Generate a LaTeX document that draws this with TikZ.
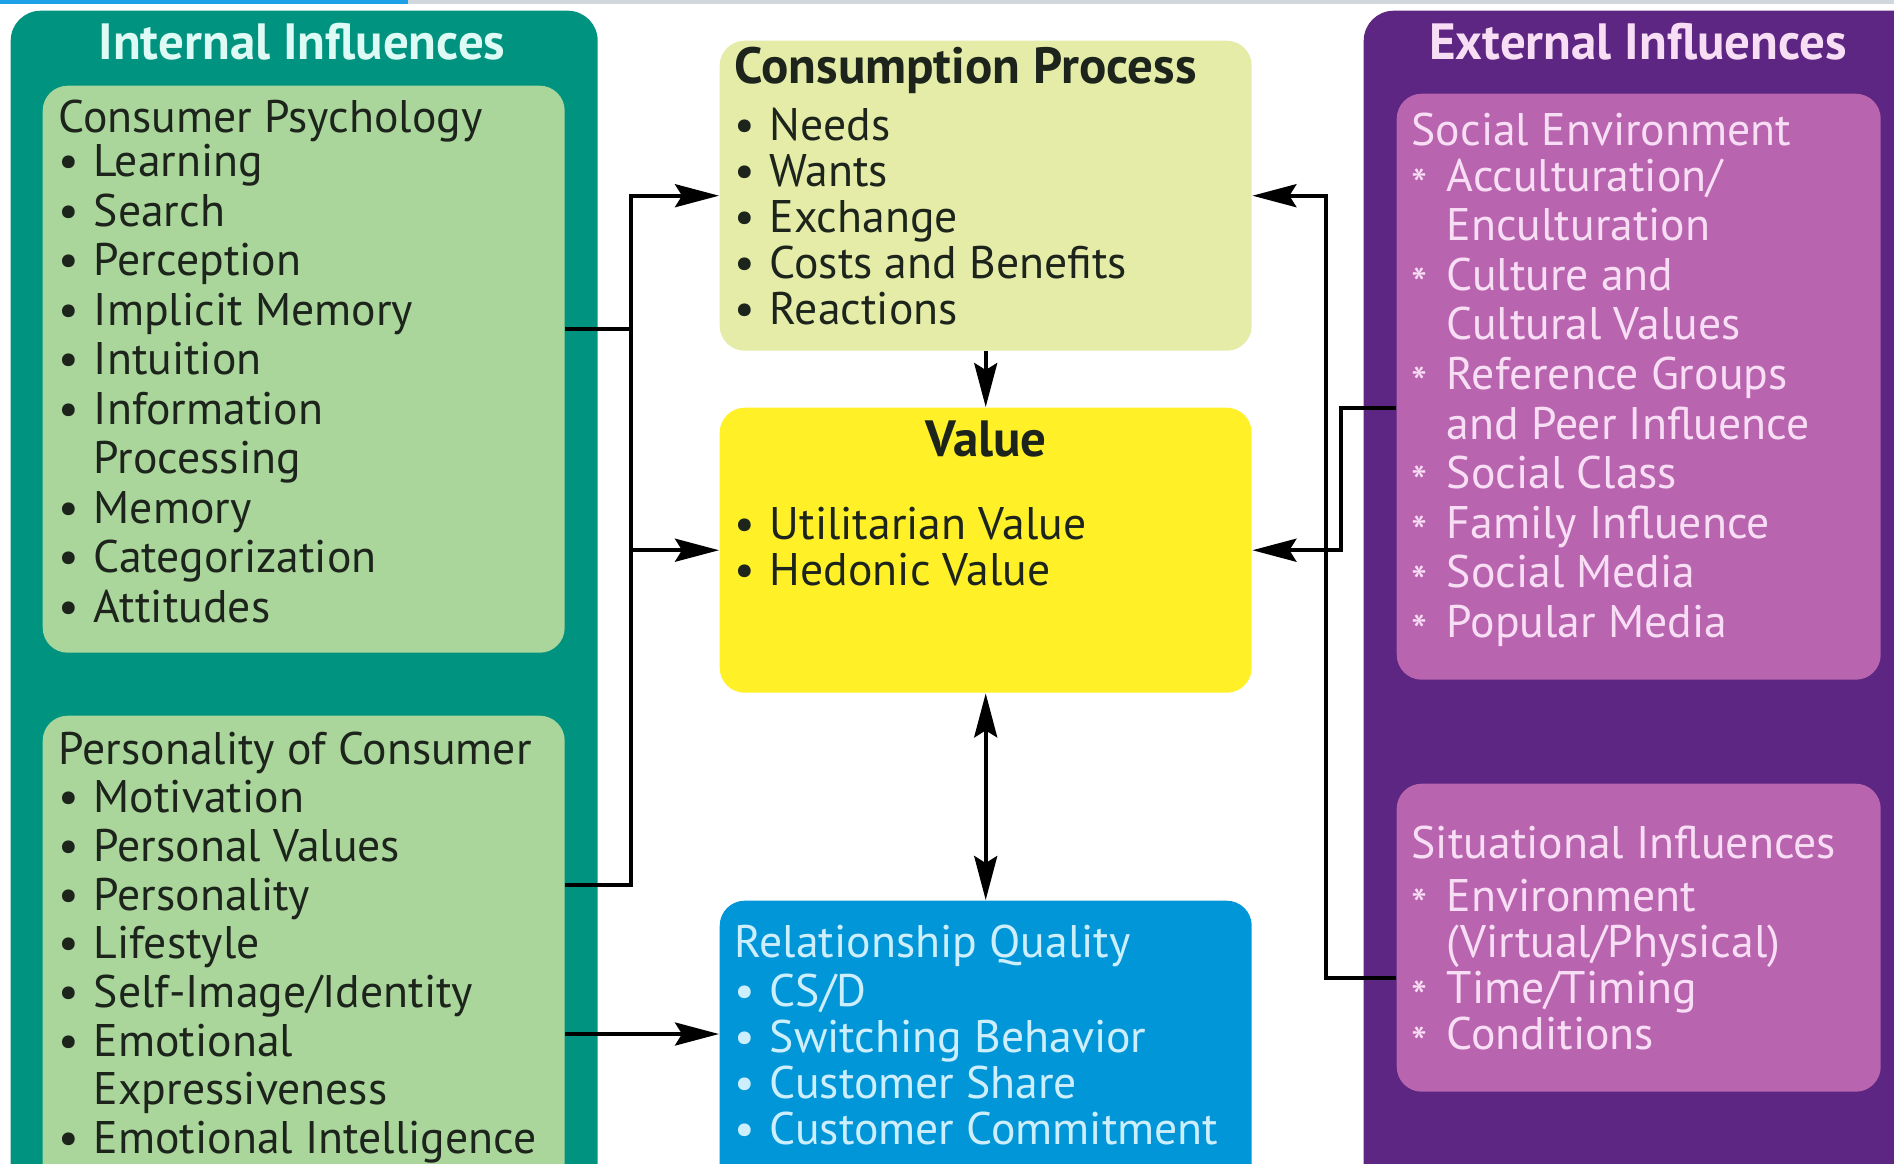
\documentclass[tikz,border=0pt]{standalone}
\usepackage{fontspec}
\setmainfont{PT Sans}
\usetikzlibrary{arrows.meta, positioning}
\definecolor{intteal}{RGB}{0,148,128}
\definecolor{psygreen}{RGB}{170,213,155}
\definecolor{cpcream}{RGB}{228,236,168}
\definecolor{valyellow}{RGB}{255,240,40}
\definecolor{rqblue}{RGB}{0,150,215}
\definecolor{rqtext}{RGB}{205,238,252}
\definecolor{extpurple}{RGB}{92,38,130}
\definecolor{socpink}{RGB}{185,100,175}
\definecolor{pinktext}{RGB}{248,222,245}
\definecolor{inttitle}{RGB}{222,250,244}
\definecolor{darktext}{RGB}{28,36,28}
\definecolor{stripgray}{RGB}{208,216,220}
\definecolor{stripblue}{RGB}{30,160,230}
\newcommand{\bul}{\makebox[10pt][l]{\textbullet}}
\newcommand{\stb}{\makebox[10pt][l]{\raisebox{-0.45ex}{*}}}
\newcommand{\ind}{\hspace*{10pt}}
\tikzset{>={Stealth[length=4.4mm,width=2.3mm,inset=0.7mm]},
    arr/.style={->, line width=1.1pt},
    biarr/.style={<->, line width=1.1pt},
    plain/.style={line width=1.1pt},
    panel/.style={rounded corners=3mm, anchor=north west, inner sep=0pt},
    box/.style={rounded corners=2.5mm, anchor=north west, inner sep=0pt},
    listtext/.style={anchor=north west, align=left, inner sep=0pt,
        font=\fontsize{13}{14.1}\selectfont},
    midtext/.style={listtext, font=\fontsize{13}{13.1}\selectfont},
    titletext/.style={inner sep=0pt, font=\fontsize{14.5}{16}\selectfont\bfseries}}
\begin{document}
\begin{tikzpicture}
\useasboundingbox (0,0) rectangle (18.94,-11.63);
\clip (0,0) rectangle (18.94,-11.63);
\fill[white] (0,0) rectangle (18.94,-11.63);
\fill[stripgray] (0,0) rectangle (18.94,-0.04);
\fill[stripblue] (0,0) rectangle (4.08,-0.04);

% internal influences
\node[panel, fill=intteal, minimum width=5.87cm, minimum height=11.9cm] (intpanel) at (0.10,-0.10) {};
\node[titletext, text=inttitle] (inttitle) at (3.02,-0.42) {Internal Influences};
\node[box, fill=psygreen, minimum width=5.22cm, minimum height=5.67cm] (psybox) at (0.42,-0.85) {};
\node[box, fill=psygreen, minimum width=5.22cm, minimum height=4.85cm] (perbox) at (0.42,-7.15) {};
\node[listtext, text=darktext] (psytxt) at (0.58,-0.99) {Consumer Psychology\\[-1.5pt]
    \bul Learning\\ \bul Search\\ \bul Perception\\ \bul Implicit Memory\\ \bul Intuition\\
    \bul Information\\ \ind Processing\\ \bul Memory\\ \bul Categorization\\ \bul Attitudes};
\node[listtext, text=darktext, font=\fontsize{13}{13.85}\selectfont] (pertxt) at (0.58,-7.31) {Personality of Consumer\\
    \bul Motivation\\ \bul Personal Values\\ \bul Personality\\ \bul Lifestyle\\
    \bul Self-Image/Identity\\ \bul Emotional\\ \ind Expressiveness\\ \bul Emotional Intelligence};

% centre column
\node[box, fill=cpcream, minimum width=5.32cm, minimum height=3.10cm] (cpbox) at (7.19,-0.40) {};
\node[box, fill=valyellow, minimum width=5.32cm, minimum height=2.85cm] (valbox) at (7.19,-4.07) {};
\node[box, fill=rqblue, minimum width=5.32cm, minimum height=3.0cm] (rqbox) at (7.19,-9.00) {};
\node[titletext, text=darktext, anchor=west] (cptitle) at (7.34,-0.70) {Consumption Process};
\node[midtext, text=darktext] (cptxt) at (7.34,-1.07) {\bul Needs\\ \bul Wants\\ \bul Exchange\\
    \bul Costs and Benefits\\ \bul Reactions};
\node[titletext, text=darktext] (valtitle) at (9.86,-4.39) {Value};
\node[midtext, text=darktext] (valtxt) at (7.34,-5.06) {\bul Utilitarian Value\\ \bul Hedonic Value};
\node[midtext, text=rqtext] (rqtxt) at (7.34,-9.24) {Relationship Quality\\[1pt] \bul CS/D\\
    \bul Switching Behavior\\ \bul Customer Share\\ \bul Customer Commitment};

% external influences
\node[panel, fill=extpurple, minimum width=5.6cm, minimum height=11.9cm] (extpanel) at (13.63,-0.10) {};
\node[titletext, text=pinktext] (exttitle) at (16.38,-0.42) {External Influences};
\node[box, fill=socpink, minimum width=4.84cm, minimum height=5.86cm] (socbox) at (13.96,-0.93) {};
\node[box, fill=socpink, minimum width=4.84cm, minimum height=3.08cm] (sitbox) at (13.96,-7.83) {};
\node[listtext, text=pinktext] (soctxt) at (14.11,-1.12) {Social Environment\\[-1pt]
    \stb Acculturation/\\ \ind Enculturation\\ \stb Culture and\\ \ind Cultural Values\\
    \stb Reference Groups\\ \ind and Peer Influence\\ \stb Social Class\\ \stb Family Influence\\
    \stb Social Media\\ \stb Popular Media};
\node[listtext, text=pinktext] (sittxt) at (14.11,-8.25) {Situational Influences\\[1pt]
    \stb Environment\\[-1pt] \ind (Virtual/Physical)\\[-1pt] \stb Time/Timing\\[-1pt] \stb Conditions};

% connectors
\coordinate (lknee) at (6.31,-3.29);
\coordinate (lfoot) at (6.31,-8.85);
\coordinate (rqin) at (6.31,-10.34);
\coordinate (rknee) at (13.41,-4.08);
\coordinate (rfoot) at (13.26,-9.78);
\draw[plain] (perbox.east |- lfoot) -- (lfoot) -- (lknee);
\draw[arr] (psybox.east |- lknee) -- (lknee) |- (cpbox.west);
\draw[arr] (lknee |- valbox.west) -- (valbox.west);
\draw[arr] (perbox.east |- rqin) -- (rqbox.west |- rqin);
\draw[arr] (cpbox.south) -- (valbox.north);
\draw[biarr] (valbox.south) -- (rqbox.north);
\draw[arr] (sitbox.west |- rfoot) -- (rfoot) |- (cpbox.east);
\draw[arr] (socbox.west |- rknee) -- (rknee) |- (valbox.east);
\end{tikzpicture}
\end{document}
